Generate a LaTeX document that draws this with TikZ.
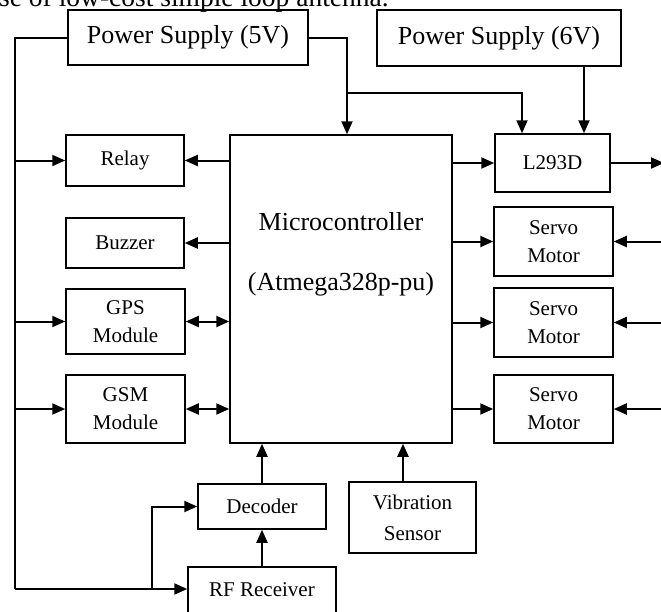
\documentclass[tikz,border=0pt]{standalone}
\usepackage{fontspec}
\setmainfont{Liberation Serif}
\usetikzlibrary{arrows.meta, positioning, calc}

\tikzset{
  blk/.style={draw, line width=1.5pt, align=center, inner sep=0pt,
    font=\fontsize{21}{28}\selectfont},
  big/.style={font=\fontsize{26}{30}\selectfont},
  wire/.style={line width=2pt},
  arr/.style={wire, -{Triangle[length=13pt,width=11pt]}},
  darr/.style={wire, {Triangle[length=13pt,width=11pt]}-{Triangle[length=13pt,width=11pt]}}
}

\begin{document}
\begin{tikzpicture}[x=1pt, y=-1pt]
\useasboundingbox (0,0) rectangle (661,611);
\clip (0,0) rectangle (661,611);

% Text of the page above the figure
\node[font=\fontsize{27.5}{30}\selectfont, anchor=base west, inner sep=0pt] (pagetext)
  at (-1,6) {se of low-cost simple loop antenna.};

% Supplies
\node[blk, big, minimum width=240pt, minimum height=55pt] (ps5) at (188,37.5) {Power Supply (5V)};
\node[blk, big, minimum width=244pt, minimum height=56pt] (ps6) at (499,38) {Power Supply (6V)};

% Microcontroller
\node[blk, minimum width=222pt, minimum height=308pt] (mcu) at (341,289) {};
\node[big, anchor=base] (mcuname) at (341,230) {Microcontroller};
\node[big, anchor=base] (mcupart) at (341,290) {(Atmega328p-pu)};

% Left column
\node[blk, minimum width=118pt, minimum height=51pt] (relay) at (125,160.5) {Relay};
\node[blk, minimum width=118pt, minimum height=50pt] (buzzer) at (125,243) {Buzzer};
\node[blk, minimum width=119pt, minimum height=65pt] (gps) at (125.5,321.5) {GPS\\Module};
\node[blk, minimum width=119pt, minimum height=68pt] (gsm) at (125.5,409) {GSM\\Module};

% Right column
\node[blk, minimum width=115pt, minimum height=58pt] (l293d) at (552.5,163) {L293D};
\node[blk, minimum width=119pt, minimum height=69pt] (servoA) at (553.5,241.5) {Servo\\Motor};
\node[blk, minimum width=119pt, minimum height=69pt] (servoB) at (553.5,322.5) {Servo\\Motor};
\node[blk, minimum width=119pt, minimum height=68pt] (servoC) at (553.5,409) {Servo\\Motor};

% Bottom row
\node[blk, minimum width=128pt, minimum height=45pt] (decoder) at (262,506.5) {Decoder};
\node[blk, minimum width=127pt, minimum height=71pt, font=\fontsize{21}{31}\selectfont]
  (vib) at (412.5,517.5) {Vibration\\Sensor};
\node[blk, minimum width=148pt, minimum height=46pt] (rf) at (262,590) {RF Receiver};

% 5V supply bus on the left
\coordinate (busT) at (15,37.5);
\coordinate (busB) at (15,589);
\coordinate (rfTap) at (152,589);
\draw[wire] (ps5.west) -- (busT) -- (busB);
\draw[arr] (busB) -- (busB -| rf.west);
\foreach \n in {relay,gps,gsm}
  \draw[arr] (busT |- \n.west) -- (\n.west);
\draw[arr] (rfTap) |- (decoder.west);

% 5V and 6V to the top
\coordinate (tap) at (347,93);
\draw[arr] (ps5.east) -| (tap |- mcu.north);
\draw[arr] (tap) -| ([xshift=-30.5pt]l293d.north);
\draw[arr] ([xshift=85pt]ps6.south) -- ([xshift=85pt]ps6.south |- l293d.north);

% Microcontroller outputs, left
\draw[arr] (mcu.west |- relay.east) -- (relay.east);
\draw[arr] (mcu.west |- buzzer.east) -- (buzzer.east);
\draw[darr] (gps.east) -- (gps.east -| mcu.west);
\draw[darr] (gsm.east) -- (gsm.east -| mcu.west);

% Microcontroller outputs, right
\foreach \n in {l293d,servoA,servoB,servoC}
  \draw[arr] (mcu.east |- \n.west) -- (\n.west);
\coordinate (edge) at (664,0);
\draw[arr] (l293d.east) -- (l293d.east -| edge);
\foreach \n in {servoA,servoB,servoC}
  \draw[arr] (\n.east -| edge) -- (\n.east);

% Inputs from below
\draw[arr] (rf.north) -- (decoder.south);
\draw[arr] (decoder.north) -- (decoder.north |- mcu.south);
\draw[arr] ([xshift=-9.5pt]vib.north) -- ([xshift=-9.5pt]vib.north |- mcu.south);
\end{tikzpicture}
\end{document}
